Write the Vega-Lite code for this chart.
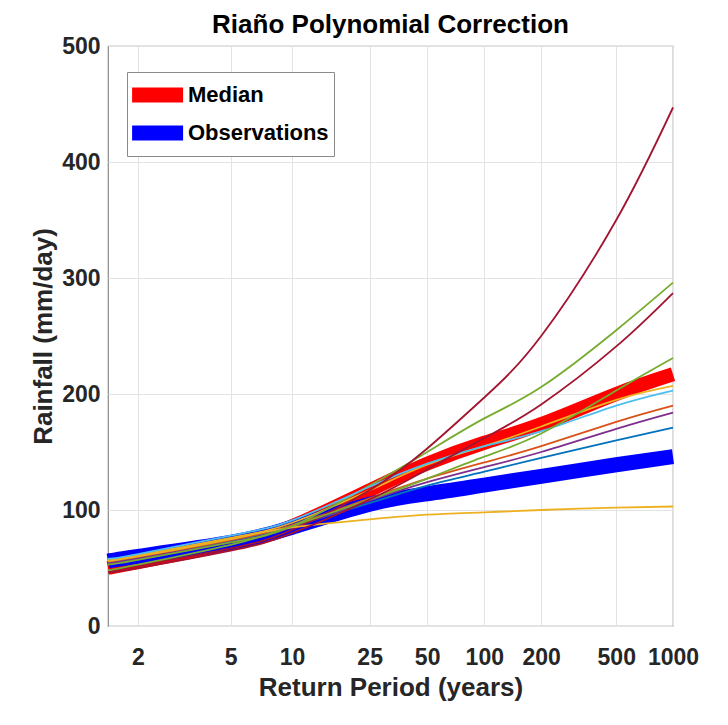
{
  "$schema": "https://vega.github.io/schema/vega-lite/v6.json",
  "width": 565,
  "height": 580,
  "autosize": "none",
  "padding": {"left": 108, "top": 46, "right": 55, "bottom": 99},
  "background": "white",
  "config": {
    "font": "Liberation Sans, Arial, sans-serif",
    "view": {"stroke": "#8a8a8a", "strokeWidth": 1.2},
    "axis": {
      "grid": true,
      "gridColor": "#e3e3e3",
      "gridWidth": 1,
      "ticks": false,
      "domain": false,
      "labelFontSize": 23,
      "labelFontWeight": "bold",
      "labelColor": "#262626",
      "titleFontSize": 26,
      "titleFontWeight": "bold",
      "titleColor": "#262626"
    }
  },
  "title": {
    "text": "Riaño Polynomial Correction",
    "fontSize": 26,
    "fontWeight": "bold",
    "color": "#000000",
    "anchor": "middle",
    "offset": -3
  },
  "datasets": {
    "summary": [
      {"series": "Median", "T": 1.582, "g": 0, "v": 50},
      {"series": "Median", "T": 2, "g": 0.366513, "v": 55},
      {"series": "Median", "T": 5, "g": 1.49994, "v": 71},
      {"series": "Median", "T": 10, "g": 2.250367, "v": 86},
      {"series": "Median", "T": 25, "g": 3.198534, "v": 117},
      {"series": "Median", "T": 50, "g": 3.901939, "v": 140},
      {"series": "Median", "T": 100, "g": 4.600149, "v": 158},
      {"series": "Median", "T": 200, "g": 5.295812, "v": 174},
      {"series": "Median", "T": 500, "g": 6.213607, "v": 200},
      {"series": "Median", "T": 1000, "g": 6.907255, "v": 217},
      {"series": "Observations", "T": 1.582, "g": 0, "v": 56},
      {"series": "Observations", "T": 2, "g": 0.366513, "v": 60},
      {"series": "Observations", "T": 5, "g": 1.49994, "v": 72},
      {"series": "Observations", "T": 10, "g": 2.250367, "v": 85},
      {"series": "Observations", "T": 25, "g": 3.198534, "v": 105},
      {"series": "Observations", "T": 50, "g": 3.901939, "v": 114},
      {"series": "Observations", "T": 100, "g": 4.600149, "v": 121.5},
      {"series": "Observations", "T": 200, "g": 5.295812, "v": 129},
      {"series": "Observations", "T": 500, "g": 6.213607, "v": 139},
      {"series": "Observations", "T": 1000, "g": 6.907255, "v": 146}
    ],
    "models": [
      {"model": "GCM 1", "T": 1.582, "g": 0, "v": 56},
      {"model": "GCM 1", "T": 2, "g": 0.366513, "v": 60},
      {"model": "GCM 1", "T": 5, "g": 1.49994, "v": 73},
      {"model": "GCM 1", "T": 10, "g": 2.250367, "v": 86},
      {"model": "GCM 1", "T": 25, "g": 3.198534, "v": 106},
      {"model": "GCM 1", "T": 50, "g": 3.901939, "v": 121},
      {"model": "GCM 1", "T": 100, "g": 4.600149, "v": 133},
      {"model": "GCM 1", "T": 200, "g": 5.295812, "v": 145},
      {"model": "GCM 1", "T": 500, "g": 6.213607, "v": 160},
      {"model": "GCM 1", "T": 1000, "g": 6.907255, "v": 171},
      {"model": "GCM 2", "T": 1.582, "g": 0, "v": 55},
      {"model": "GCM 2", "T": 2, "g": 0.366513, "v": 59},
      {"model": "GCM 2", "T": 5, "g": 1.49994, "v": 74},
      {"model": "GCM 2", "T": 10, "g": 2.250367, "v": 87},
      {"model": "GCM 2", "T": 25, "g": 3.198534, "v": 110},
      {"model": "GCM 2", "T": 50, "g": 3.901939, "v": 127},
      {"model": "GCM 2", "T": 100, "g": 4.600149, "v": 141},
      {"model": "GCM 2", "T": 200, "g": 5.295812, "v": 155},
      {"model": "GCM 2", "T": 500, "g": 6.213607, "v": 176},
      {"model": "GCM 2", "T": 1000, "g": 6.907255, "v": 190},
      {"model": "GCM 3", "T": 1.582, "g": 0, "v": 57},
      {"model": "GCM 3", "T": 2, "g": 0.366513, "v": 61},
      {"model": "GCM 3", "T": 5, "g": 1.49994, "v": 76},
      {"model": "GCM 3", "T": 10, "g": 2.250367, "v": 89},
      {"model": "GCM 3", "T": 25, "g": 3.198534, "v": 117},
      {"model": "GCM 3", "T": 50, "g": 3.901939, "v": 139},
      {"model": "GCM 3", "T": 100, "g": 4.600149, "v": 155},
      {"model": "GCM 3", "T": 200, "g": 5.295812, "v": 172},
      {"model": "GCM 3", "T": 500, "g": 6.213607, "v": 195},
      {"model": "GCM 3", "T": 1000, "g": 6.907255, "v": 207},
      {"model": "GCM 4", "T": 1.582, "g": 0, "v": 54},
      {"model": "GCM 4", "T": 2, "g": 0.366513, "v": 58},
      {"model": "GCM 4", "T": 5, "g": 1.49994, "v": 72},
      {"model": "GCM 4", "T": 10, "g": 2.250367, "v": 85},
      {"model": "GCM 4", "T": 25, "g": 3.198534, "v": 108},
      {"model": "GCM 4", "T": 50, "g": 3.901939, "v": 124},
      {"model": "GCM 4", "T": 100, "g": 4.600149, "v": 137},
      {"model": "GCM 4", "T": 200, "g": 5.295812, "v": 150},
      {"model": "GCM 4", "T": 500, "g": 6.213607, "v": 170},
      {"model": "GCM 4", "T": 1000, "g": 6.907255, "v": 184},
      {"model": "GCM 5", "T": 1.582, "g": 0, "v": 53},
      {"model": "GCM 5", "T": 2, "g": 0.366513, "v": 57},
      {"model": "GCM 5", "T": 5, "g": 1.49994, "v": 72},
      {"model": "GCM 5", "T": 10, "g": 2.250367, "v": 86},
      {"model": "GCM 5", "T": 25, "g": 3.198534, "v": 121},
      {"model": "GCM 5", "T": 50, "g": 3.901939, "v": 150},
      {"model": "GCM 5", "T": 100, "g": 4.600149, "v": 179},
      {"model": "GCM 5", "T": 200, "g": 5.295812, "v": 206},
      {"model": "GCM 5", "T": 500, "g": 6.213607, "v": 255},
      {"model": "GCM 5", "T": 1000, "g": 6.907255, "v": 296},
      {"model": "GCM 6", "T": 1.582, "g": 0, "v": 58},
      {"model": "GCM 6", "T": 2, "g": 0.366513, "v": 62},
      {"model": "GCM 6", "T": 5, "g": 1.49994, "v": 78},
      {"model": "GCM 6", "T": 10, "g": 2.250367, "v": 91},
      {"model": "GCM 6", "T": 25, "g": 3.198534, "v": 120},
      {"model": "GCM 6", "T": 50, "g": 3.901939, "v": 140},
      {"model": "GCM 6", "T": 100, "g": 4.600149, "v": 155},
      {"model": "GCM 6", "T": 200, "g": 5.295812, "v": 168},
      {"model": "GCM 6", "T": 500, "g": 6.213607, "v": 190},
      {"model": "GCM 6", "T": 1000, "g": 6.907255, "v": 203},
      {"model": "GCM 7", "T": 1.582, "g": 0, "v": 47},
      {"model": "GCM 7", "T": 2, "g": 0.366513, "v": 52},
      {"model": "GCM 7", "T": 5, "g": 1.49994, "v": 67},
      {"model": "GCM 7", "T": 10, "g": 2.250367, "v": 83},
      {"model": "GCM 7", "T": 25, "g": 3.198534, "v": 117},
      {"model": "GCM 7", "T": 50, "g": 3.901939, "v": 153},
      {"model": "GCM 7", "T": 100, "g": 4.600149, "v": 197},
      {"model": "GCM 7", "T": 200, "g": 5.295812, "v": 250},
      {"model": "GCM 7", "T": 500, "g": 6.213607, "v": 350},
      {"model": "GCM 7", "T": 1000, "g": 6.907255, "v": 447},
      {"model": "GCM 10", "T": 1.582, "g": 0, "v": 56},
      {"model": "GCM 10", "T": 2, "g": 0.366513, "v": 60},
      {"model": "GCM 10", "T": 5, "g": 1.49994, "v": 75},
      {"model": "GCM 10", "T": 10, "g": 2.250367, "v": 85},
      {"model": "GCM 10", "T": 25, "g": 3.198534, "v": 92},
      {"model": "GCM 10", "T": 50, "g": 3.901939, "v": 96},
      {"model": "GCM 10", "T": 100, "g": 4.600149, "v": 98},
      {"model": "GCM 10", "T": 200, "g": 5.295812, "v": 100},
      {"model": "GCM 10", "T": 500, "g": 6.213607, "v": 102},
      {"model": "GCM 10", "T": 1000, "g": 6.907255, "v": 103},
      {"model": "GCM 12", "T": 1.582, "g": 0, "v": 48},
      {"model": "GCM 12", "T": 2, "g": 0.366513, "v": 53},
      {"model": "GCM 12", "T": 5, "g": 1.49994, "v": 70},
      {"model": "GCM 12", "T": 10, "g": 2.250367, "v": 86},
      {"model": "GCM 12", "T": 25, "g": 3.198534, "v": 109},
      {"model": "GCM 12", "T": 50, "g": 3.901939, "v": 127},
      {"model": "GCM 12", "T": 100, "g": 4.600149, "v": 146},
      {"model": "GCM 12", "T": 200, "g": 5.295812, "v": 166},
      {"model": "GCM 12", "T": 500, "g": 6.213607, "v": 203},
      {"model": "GCM 12", "T": 1000, "g": 6.907255, "v": 231},
      {"model": "GCM 14", "T": 1.582, "g": 0, "v": 46},
      {"model": "GCM 14", "T": 2, "g": 0.366513, "v": 50},
      {"model": "GCM 14", "T": 5, "g": 1.49994, "v": 65},
      {"model": "GCM 14", "T": 10, "g": 2.250367, "v": 80},
      {"model": "GCM 14", "T": 25, "g": 3.198534, "v": 109},
      {"model": "GCM 14", "T": 50, "g": 3.901939, "v": 135},
      {"model": "GCM 14", "T": 100, "g": 4.600149, "v": 162},
      {"model": "GCM 14", "T": 200, "g": 5.295812, "v": 191},
      {"model": "GCM 14", "T": 500, "g": 6.213607, "v": 241},
      {"model": "GCM 14", "T": 1000, "g": 6.907255, "v": 287}
    ]
  },
  "encoding": {
    "x": {
      "field": "g",
      "type": "quantitative",
      "scale": {"domain": [0, 6.907255], "nice": false, "zero": false},
      "axis": {
        "title": "Return Period (years)",
        "values": [0.366513, 1.49994, 2.250367, 3.198534, 3.901939, 4.600149, 5.295812, 6.213607, 6.907255],
        "labelExpr": "format(1/(1-exp(-exp(-datum.value))), '.0f')",
        "labelPadding": 20,
        "titlePadding": 5,
        "labelFlush": false,
        "labelOverlap": false
      }
    },
    "y": {
      "field": "v",
      "type": "quantitative",
      "scale": {"domain": [0, 500], "nice": false},
      "axis": {
        "title": "Rainfall (mm/day)",
        "values": [0, 100, 200, 300, 400, 500],
        "labelPadding": 8,
        "titlePadding": 5,
        "labelFlush": false
      }
    }
  },
  "layer": [
    {
      "data": {"name": "summary"},
      "layer": [
        {
          "transform": [{"filter": "datum.series === 'Median'"}],
          "mark": {"type": "line", "strokeWidth": 14, "interpolate": "natural", "strokeCap": "butt"},
          "encoding": {
            "color": {
              "field": "series",
              "type": "nominal",
              "scale": {"domain": ["Median", "Observations"], "range": ["#ff0000", "#0000ff"]},
              "legend": {
                "title": null,
                "orient": "none",
                "legendX": 19,
                "legendY": 26,
                "padding": 5,
                "rowPadding": 2,
                "clipHeight": 36,
                "fillColor": "white",
                "strokeColor": "#8a8a8a",
                "cornerRadius": 0,
                "symbolType": "M-1.6,0H2.4",
                "symbolSize": 650,
                "symbolStrokeWidth": 15,
                "labelFontSize": 22,
                "labelFontWeight": "bold",
                "labelColor": "#000000",
                "labelOffset": 15,
                "labelLimit": 300
              }
            }
          }
        },
        {
          "transform": [{"filter": "datum.series === 'Observations'"}],
          "mark": {"type": "line", "strokeWidth": 15, "interpolate": "natural", "strokeCap": "butt"},
          "encoding": {
            "color": {"field": "series", "type": "nominal"}
          }
        }
      ]
    },
    {
      "data": {"name": "models"},
      "mark": {"type": "line", "strokeWidth": 1.8, "interpolate": "natural"},
      "encoding": {
        "color": {
          "field": "model",
          "type": "nominal",
          "scale": {
            "domain": ["GCM 1", "GCM 2", "GCM 3", "GCM 4", "GCM 5", "GCM 6", "GCM 7", "GCM 10", "GCM 12", "GCM 14"],
            "range": ["#0072BD", "#D95319", "#EDB120", "#7E2F8E", "#77AC30", "#4DBEEE", "#A2142F", "#EDB120", "#77AC30", "#A2142F"]
          },
          "legend": null
        }
      }
    }
  ],
  "resolve": {"scale": {"color": "independent"}}
}
